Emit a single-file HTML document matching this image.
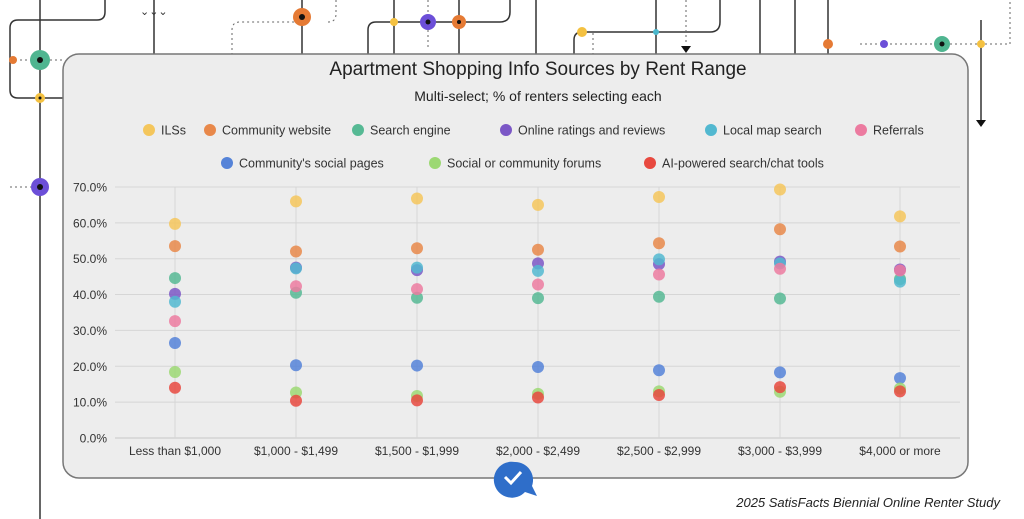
<!DOCTYPE html>
<html><head><meta charset="utf-8"><style>
html,body{margin:0;padding:0;background:#fff;width:1024px;height:519px;overflow:hidden}
svg{display:block;font-family:"Liberation Sans",sans-serif}
</style></head><body>
<svg id="s" width="1024" height="519" viewBox="0 0 1024 519">
<g stroke="#333" stroke-width="1.5" fill="none">
<path d="M105 0 V12 Q105 20 97 20 H18 Q10 20 10 28 V90 Q10 98 18 98 H63"/>
<path d="M40 0 V519"/>
<path d="M154 0 V55"/><path d="M302 0 V55"/>
<path d="M368 55 V30 Q368 22 376 22 H500 Q510 22 510 12 V0"/>
<path d="M394 0 V55"/><path d="M459 0 V55"/>
<path d="M536 0 V55"/><path d="M574 55 V40 Q574 32 582 32 H710 Q720 32 720 22 V0"/>
<path d="M656 0 V55"/><path d="M760 0 V55"/><path d="M795 0 V55"/><path d="M828 0 V55"/>
<path d="M981 20 V120"/>
</g>
<g stroke="#666" stroke-width="1" fill="none" stroke-dasharray="2,3">
<path d="M10 60 H63"/><path d="M10 187 H40"/><path d="M232 55 V30 Q232 22 240 22 H302"/><path d="M336 0 V14 Q336 22 328 22"/>
<path d="M593 55 V32"/><path d="M686 0 V45"/><path d="M860 44 H1010 V0"/>
<path d="M428 0 V50"/>
</g>
<g font-size="11" fill="#333"><text x="140" y="15">⌄⌄⌄</text></g>
<g>
<circle cx="40" cy="60" r="10" fill="#4fb590"/><circle cx="40" cy="60" r="3" fill="#111"/>
<circle cx="13" cy="60" r="4" fill="#e57a34"/>
<circle cx="40" cy="98" r="5" fill="#f4c141"/><circle cx="40" cy="98" r="1.5" fill="#111"/>
<circle cx="40" cy="187" r="9" fill="#6c4fd8"/><circle cx="40" cy="187" r="3" fill="#111"/>
<circle cx="302" cy="17" r="9" fill="#e57a34"/><circle cx="302" cy="17" r="3" fill="#111"/>
<circle cx="394" cy="22" r="4" fill="#f4c141"/><circle cx="428" cy="22" r="8" fill="#6c4fd8"/><circle cx="428" cy="22" r="2.5" fill="#111"/>
<circle cx="459" cy="22" r="7" fill="#e57a34"/><circle cx="459" cy="22" r="2" fill="#111"/>
<circle cx="582" cy="32" r="5" fill="#f4c141"/><circle cx="656" cy="32" r="3" fill="#4ab7cc"/>
<circle cx="828" cy="44" r="5" fill="#e57a34"/><circle cx="884" cy="44" r="4" fill="#6c4fd8"/>
<circle cx="942" cy="44" r="8" fill="#4fb590"/><circle cx="942" cy="44" r="2.5" fill="#111"/><circle cx="981" cy="44" r="4" fill="#f4c141"/>
<path d="M976 120 h10 l-5 7z" fill="#111"/><path d="M681 46 h10 l-5 7z" fill="#111"/>
</g>
<rect x="63" y="54" width="905" height="424" rx="16" fill="#ededed" stroke="#777" stroke-width="1.5"/>
<text x="538" y="75" text-anchor="middle" font-size="19" fill="#222">Apartment Shopping Info Sources by Rent Range</text>
<text x="538" y="101" text-anchor="middle" font-size="14" fill="#222">Multi-select; % of renters selecting each</text>
<g id="leg" font-size="12.5" fill="#333"></g>
<g id="grid"></g>
<g id="pts"></g>
<path d="M515 462 a18 18 0 1 0 10 30 l12 4 -5 -10 a18 18 0 0 0 -17 -24z" fill="#2f6ec9"/>
<path d="M505 477 l6 6 10 -11" stroke="#fff" stroke-width="3" fill="none"/>
<text x="1000" y="507" text-anchor="end" font-size="13" font-style="italic" fill="#222">2025 SatisFacts Biennial Online Renter Study</text>
</svg>
<script>
const NS="http://www.w3.org/2000/svg";
function el(p,t,a,txt){const e=document.createElementNS(NS,t);for(const k in a)e.setAttribute(k,a[k]);if(txt!==undefined)e.textContent=txt;p.appendChild(e);return e;}
const cols=["#f4c65c","#e8884a","#56b994","#7b57c6","#52b8d0","#ec7ba0","#5583d8","#9cd873","#e8493f"];
const names=["ILSs","Community website","Search engine","Online ratings and reviews","Local map search","Referrals","Community's social pages","Social or community forums","AI-powered search/chat tools"];
const lx=[[149,210,358,506,711,861],[227,435,650]];
const leg=document.getElementById("leg");
let i=0;
lx.forEach((row,r)=>row.forEach(x=>{const y=r?163:130;el(leg,"circle",{cx:x,cy:y,r:6,fill:cols[i]});el(leg,"text",{x:x+12,y:y+4.5},names[i]);i++;}));
const g=document.getElementById("grid");
const y0=438,k=3.586,xs=[175,296,417,538,659,780,900];
for(let v=0;v<=70;v+=10){const y=y0-v*k;el(g,"line",{x1:115,x2:960,y1:y,y2:y,stroke:v?"#d6d6d6":"#c8c8c8","stroke-width":1});el(g,"text",{x:107,y:y+4.5,"text-anchor":"end","font-size":12,fill:"#333"},v.toFixed(1)+"%");}
const labs=["Less than $1,000","$1,000 - $1,499","$1,500 - $1,999","$2,000 - $2,499","$2,500 - $2,999","$3,000 - $3,999","$4,000 or more"];
xs.forEach((x,j)=>{el(g,"line",{x1:x,x2:x,y1:187,y2:438,stroke:"#d6d6d6"});el(g,"text",{x:x,y:455,"text-anchor":"middle","font-size":12,fill:"#333"},labs[j]);});
const D=[[59.7,66,66.8,65,67.2,69.3,61.8],[53.5,52,52.9,52.5,54.3,58.2,53.4],[44.6,40.5,39.1,39,39.4,38.9,44.3],[40.2,47.5,46.8,48.7,48.5,49.2,47],[38,47.3,47.5,46.6,49.8,48.7,43.6],[32.6,42.3,41.5,42.8,45.6,47.2,46.7],[26.5,20.3,20.2,19.8,18.9,18.3,16.7],[18.4,12.7,11.7,12.3,13,12.9,13.8],[14,10.4,10.5,11.3,12,14.2,13]];
const p=document.getElementById("pts");
D.forEach((s,si)=>s.forEach((v,j)=>el(p,"circle",{cx:xs[j],cy:y0-v*k,r:6,fill:cols[si],"fill-opacity":0.85})));
</script>
</body></html>
